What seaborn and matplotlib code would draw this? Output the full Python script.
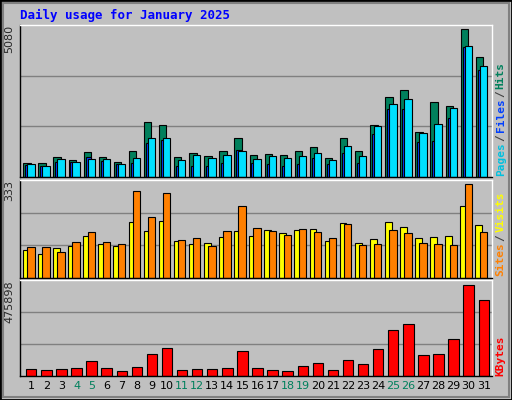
import numpy as np
import pandas as pd
import matplotlib
matplotlib.use("Agg")
import matplotlib.pyplot as plt
import seaborn as sns
from matplotlib.patches import Rectangle

days = list(range(1, 32))
weekend = [4, 5, 11, 12, 18, 19, 25, 26]
hits = [480, 480, 692, 580, 860, 692, 514, 893, 1898, 1786, 692, 826, 726, 893, 1329, 759,
        793, 759, 893, 1027, 659, 1329, 893, 1798, 2735, 3003, 1530, 2568, 2434, 5080, 4117]
files = [436, 367, 608, 505, 608, 608, 436, 642, 1330, 1330, 573, 745, 642, 745, 883, 608,
         711, 642, 711, 814, 573, 1055, 711, 1743, 2500, 2672, 1502, 1812, 2362, 4495, 3807]
pages = [401, 367, 505, 505, 677, 539, 436, 470, 1158, 1261, 367, 367, 367, 470, 917, 470,
         436, 367, 436, 642, 436, 814, 470, 1468, 2328, 2328, 1193, 1227, 2018, 4461, 3670]
sites = [99, 84, 106, 113, 149, 120, 113, 200, 167, 203, 131, 120, 124, 145, 167, 149,
         171, 160, 171, 174, 131, 196, 124, 138, 200, 181, 142, 145, 149, 257, 189]
visits = [109, 109, 91, 127, 163, 127, 120, 308, 218, 301, 135, 142, 113, 167, 257, 178,
          167, 153, 174, 163, 142, 192, 117, 120, 171, 160, 124, 120, 117, 333, 163]
kbytes = [38211, 33000, 38211, 43421, 79896, 43421, 27790, 48632, 116370, 147633, 33000,
          38211, 38211, 43421, 132002, 43421, 33000, 27790, 53843, 69474, 33000, 85107,
          64264, 142422, 241424, 272688, 111159, 116370, 194528, 475898, 397741]

sns.set_style("white")
plt.rcParams['font.family'] = ['DejaVu Sans Mono', 'DejaVu Sans']
BG = "#C0C0C0"
fig = plt.figure(figsize=(5.12, 4.0), dpi=100, facecolor=BG)
fig.patches.append(Rectangle((0, 0), 1, 1, transform=fig.transFigure, fill=False,
                             edgecolor="black", lw=2))
fig.patches.append(Rectangle((0.006, 0.008), 0.988, 0.984, transform=fig.transFigure,
                             fill=False, edgecolor="#808080", lw=1.5))

x = np.arange(31)
ax1 = fig.add_axes([0.039, 0.5575, 0.922, 0.38])
ax2 = fig.add_axes([0.039, 0.305, 0.922, 0.245])
ax3 = fig.add_axes([0.039, 0.06, 0.922, 0.24])
ek = dict(edgecolor="black", linewidth=0.8, align="edge")
ax1.bar(x - 0.53, hits, 0.49, color="#00805C", **ek)
ax1.bar(x - 0.40, pages, 0.35, color="#0040FF", **ek)
ax1.bar(x - 0.27, files, 0.49, color="#00E0FF", **ek)
ax2.bar(x - 0.55, sites, 0.45, color="#FFFF00", **ek)
ax2.bar(x - 0.27, visits, 0.49, color="#FF8000", **ek)
df = pd.DataFrame({"day": [str(d) for d in days], "kb": kbytes})
sns.barplot(data=df, x="day", y="kb", ax=ax3, color="#FF0000", saturation=1,
            width=0.69, edgecolor="black", linewidth=0.8)

lims = [(ax1, 5080 * 152 / 148, "5080"), (ax2, 333 * 98 / 93.7, "333"),
        (ax3, 475898 * 96 / 91.3, "475898")]
for ax, top, lab in lims:
    ax.set_facecolor(BG)
    ax.set_ylim(0, top)
    ax.set_xlim(-0.75, 30.55)
    ax.set_yticks([top / 3, 2 * top / 3])
    ax.set_yticklabels([])
    ax.tick_params(length=0)
    ax.grid(axis="y", color="#808080", lw=1)
    ax.set_axisbelow(True)
    ax.set_xlabel(""); ax.set_ylabel("")
    for s in ["top", "right"]:
        ax.spines[s].set_color("white")
    for s in ["left", "bottom"]:
        ax.spines[s].set_color("black")
    for s in ax.spines.values():
        s.set_linewidth(1)
    ax.text(-0.012, 1.0, lab, transform=ax.transAxes, rotation=90, ha="right", va="top",
            fontsize=8, family="DejaVu Sans")
for ax in (ax1, ax2):
    ax.set_xticks([])
ax3.set_xticks(x)
ax3.set_xticklabels([str(d) for d in days], fontsize=8, family="DejaVu Sans")
for t, d in zip(ax3.get_xticklabels(), days):
    t.set_color("#00805C" if d in weekend else "black")

fig.text(0.039, 0.962, "Daily usage for January 2025", color="#0000FF", fontsize=9,
         fontweight="bold", va="center", ha="left")

def vlabel(parts, y0):
    y = y0
    for txt, col in parts:
        t = fig.text(0.978, y, txt, rotation=90, color=col, fontsize=8,
                     fontweight="bold", ha="center", va="bottom")
        y += (len(txt) + 0.3) * 0.0165

vlabel([("Pages", "#00C0E0"), ("/", "#404040"), ("Files", "#0040FF"), ("/", "#404040"),
        ("Hits", "#00805C")], 0.56)
vlabel([("Sites", "#FF8000"), ("/", "#404040"), ("Visits", "#FFFF00")], 0.31)
vlabel([("KBytes", "#FF0000")], 0.06)

fig.savefig("out.png", dpi=100, facecolor=BG)
